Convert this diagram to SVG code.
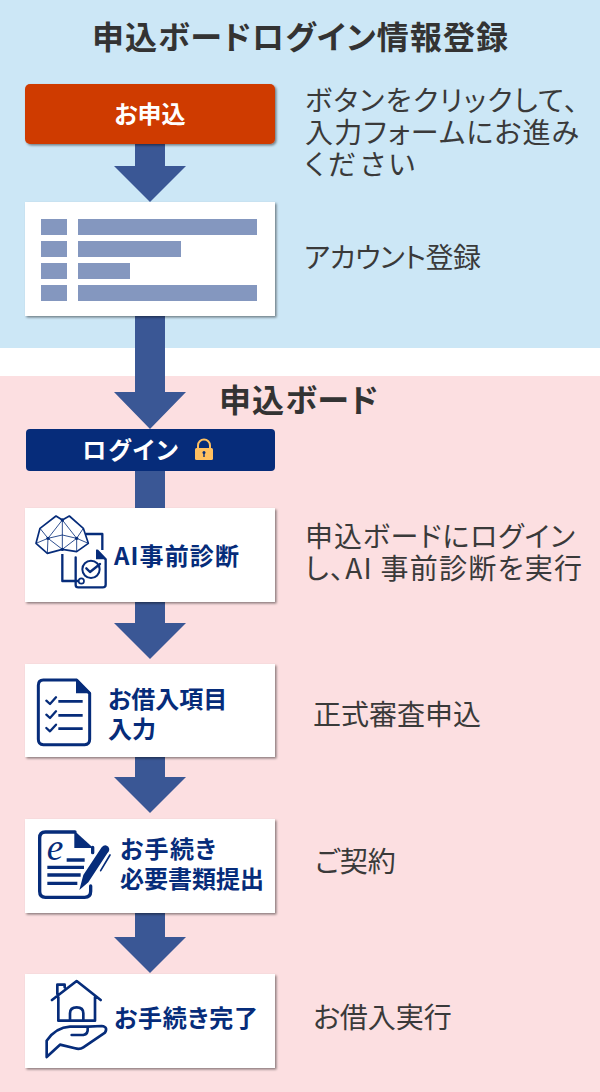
<svg xmlns="http://www.w3.org/2000/svg" width="600" height="1092" viewBox="0 0 600 1092">
<style>
text{font-family:"Noto Sans CJK JP","Noto Sans",sans-serif;font-feature-settings:"palt"}
.h{font-size:32px;font-weight:700;fill:#333;}
.d{font-size:28px;fill:#3a3a3a;}
.c{font-size:24px;font-weight:700;fill:#062c7a;}
.w{font-size:24px;font-weight:700;fill:#fff;}
.card{fill:#fff;filter:url(#s)}
.bar{fill:#8497bf}
.arrow{fill:#3a5795}
.ic{fill:none;stroke:#062c7a;stroke-width:9;stroke-linecap:round;stroke-linejoin:round}
.thin{fill:none;stroke:#062c7a;stroke-width:2.500}
.fl{fill:#062c7a}
</style>
<defs>
<filter id="s" x="-5%" y="-5%" width="110%" height="115%"><feDropShadow dx="1.5" dy="1.5" stdDeviation="1" flood-color="#000" flood-opacity=".45"/></filter>
</defs>
<rect width="600" height="348" fill="#cce7f6"/>
<rect y="376" width="600" height="716" fill="#fcdfe1"/>
<g id="connectors">
<path class="arrow" d="M135,144H165V166H186L150,202L114,166H135Z"/>
<path class="arrow" d="M135,316H165V392H186L150,429L114,392H135Z"/>
<rect class="arrow" x="135" y="470" width="30" height="38"/>
<path class="arrow" d="M135,602H165V623H186L150,659L114,623H135Z"/>
<path class="arrow" d="M135,757H165V777H186L150,813L114,777H135Z"/>
<path class="arrow" d="M135,912H165V937H186L150,973L114,937H135Z"/>
</g>
<text id="title" class="h" x="92" y="49" textLength="416">申込ボードログイン情報登録</text>
<g id="apply">
<rect x="25" y="84" width="250" height="60" rx="5" fill="#cf3a03" filter="url(#s)"/>
<text class="w" x="150" y="123" text-anchor="middle">お申込</text>
</g>
<text class="d" x="305" y="111" textLength="273">ボタンをクリックして、</text>
<text class="d" x="305" y="143" textLength="274">入力フォームにお進み</text>
<text class="d" x="305" y="175" textLength="110">ください</text>
<g id="form">
<rect class="card" x="25" y="202" width="250" height="114"/>
<rect class="bar" x="41" y="219" width="26" height="16"/><rect class="bar" x="78" y="219" width="179" height="16"/>
<rect class="bar" x="41" y="241" width="26" height="16"/><rect class="bar" x="78" y="241" width="103" height="16"/>
<rect class="bar" x="41" y="263" width="26" height="16"/><rect class="bar" x="78" y="263" width="52" height="16"/>
<rect class="bar" x="41" y="285" width="26" height="16"/><rect class="bar" x="78" y="285" width="179" height="16"/>
</g>
<text class="d" x="304" y="268" textLength="177">アカウント登録</text>
<text id="board-title" class="h" x="219" y="412" textLength="159">申込ボード</text>
<g id="login">
<rect x="26" y="429" width="249" height="42" rx="4" fill="#062c7a"/>
<text class="w" x="82" y="459" textLength="96">ログイン</text>
<path d="M198,448V445.500a6,6 0 0 1 12,0V448" fill="none" stroke="#ffc060" stroke-width="2"/>
<rect x="195" y="448" width="18" height="12" rx="1.500" fill="#ffc060"/>
<circle cx="204" cy="452.500" r="1.500" fill="#062c7a"/><rect x="203.300" y="453" width="1.400" height="4" fill="#062c7a"/>
</g>
<g id="ai">
<rect class="card" x="25" y="508" width="250" height="94"/>
<g transform="translate(20,500) scale(.33333)">
<path class="ic" style="stroke-width:5" d="M48,130L60,85L108,48L127,60L148,48L190,85L205,130L170,155L127,148L82,160Z"/>
<path class="thin" d="M127,60V148M84,115L127,105L170,115M84,115L127,148L170,115M84,115L127,60L170,115M60,85L84,115L48,130M190,85L170,115L205,130M84,115L82,160M170,115L170,155"/>
<circle cx="127" cy="60" r="5" class="fl"/><circle cx="127" cy="148" r="5" class="fl"/><circle cx="84" cy="115" r="5" class="fl"/><circle cx="170" cy="115" r="5" class="fl"/>
<path class="ic" style="stroke-width:7;stroke-linecap:butt" d="M197,102H247V150M127,162V243H176"/>
<circle cx="184" cy="243" r="8" fill="#fff" stroke="#062c7a" stroke-width="5"/>
<path class="ic" style="stroke-width:7" d="M167,172V255Q167,262 175,262H248Q257,262 257,254V178L232,152"/>
<path class="fl" d="M228,148L258,178H228Z"/>
<circle cx="213" cy="208" r="26" fill="none" stroke="#062c7a" stroke-width="6"/>
<path class="ic" style="stroke-width:7" d="M199,205L210,216L240,192"/>
</g>
<text class="c" x="114" y="565" textLength="125">AI事前診断</text>
</g>
<text class="d" x="305" y="547" textLength="270">申込ボードにログイン</text>
<text class="d" x="305" y="579" textLength="277">し、AI 事前診断を実行</text>
<g id="items">
<rect class="card" x="25" y="664" width="250" height="93"/>
<g transform="translate(20,500) scale(.33333)">
<path class="ic" d="M170,540H70Q55,540 55,556V718Q55,734 70,734H194Q209,734 209,718V580Z"/>
<path class="fl" d="M168,536L213,580H168Z"/>
<path class="ic" style="stroke-width:8;stroke-linecap:butt" d="M115,604H188M115,646H188M115,686H188"/>
<path class="ic" style="stroke-width:7" d="M79,602L90,612L108,592M79,644L90,654L108,634M79,684L90,694L108,674"/>
</g>
<text class="c" x="108" y="708">お借入項目</text>
<text class="c" x="108" y="738">入力</text>
</g>
<text class="d" x="313" y="725">正式審査申込</text>
<g id="docs">
<rect class="card" x="25" y="819" width="250" height="94"/>
<g transform="translate(20,810) scale(.33333)">
<path class="ic" style="stroke-width:10" d="M165,66H76Q59,66 59,84V244Q59,262 76,262H194Q212,262 212,244V228M218,112V128"/>
<path class="fl" d="M163,62L220,114H163Z"/>
<text x="80" y="150" font-size="112" font-style="italic" fill="#062c7a" style="font-family:'Liberation Serif',serif">e</text>
<path class="ic" style="stroke-width:10;stroke-linecap:butt" d="M140,150H194M82,172H192M82,195H182M82,220H172"/>
<path class="fl" d="M178,240L190,195L245,112Q255,100 265,110Q272,120 262,130L205,217Z"/>
<path class="ic" style="stroke-width:5" d="M270,135L242,182"/>
</g>
<text class="c" x="120" y="858" textLength="96">お手続き</text>
<text class="c" x="120" y="888">必要書類提出</text>
</g>
<text class="d" x="315" y="872">ご契約</text>
<g id="done">
<rect class="card" x="25" y="974" width="250" height="94"/>
<g transform="translate(20,810) scale(.33333)">
<path class="ic" style="stroke-width:8" d="M96,570L170,513L242,570M112,552V524H134V532M115,562V632H225V562M150,632V610Q150,592 170,592Q190,592 190,610V632"/>
<path class="ic" style="stroke-width:8" d="M80,741V692Q108,652 150,650H205L245,648Q265,650 255,668L190,712Q180,719 165,715L120,704ZM155,675H190Q205,672 203,655"/>
</g>
<text class="c" x="114" y="1027" textLength="144">お手続き完了</text>
</g>
<text class="d" x="313" y="1028">お借入実行</text>
</svg>
